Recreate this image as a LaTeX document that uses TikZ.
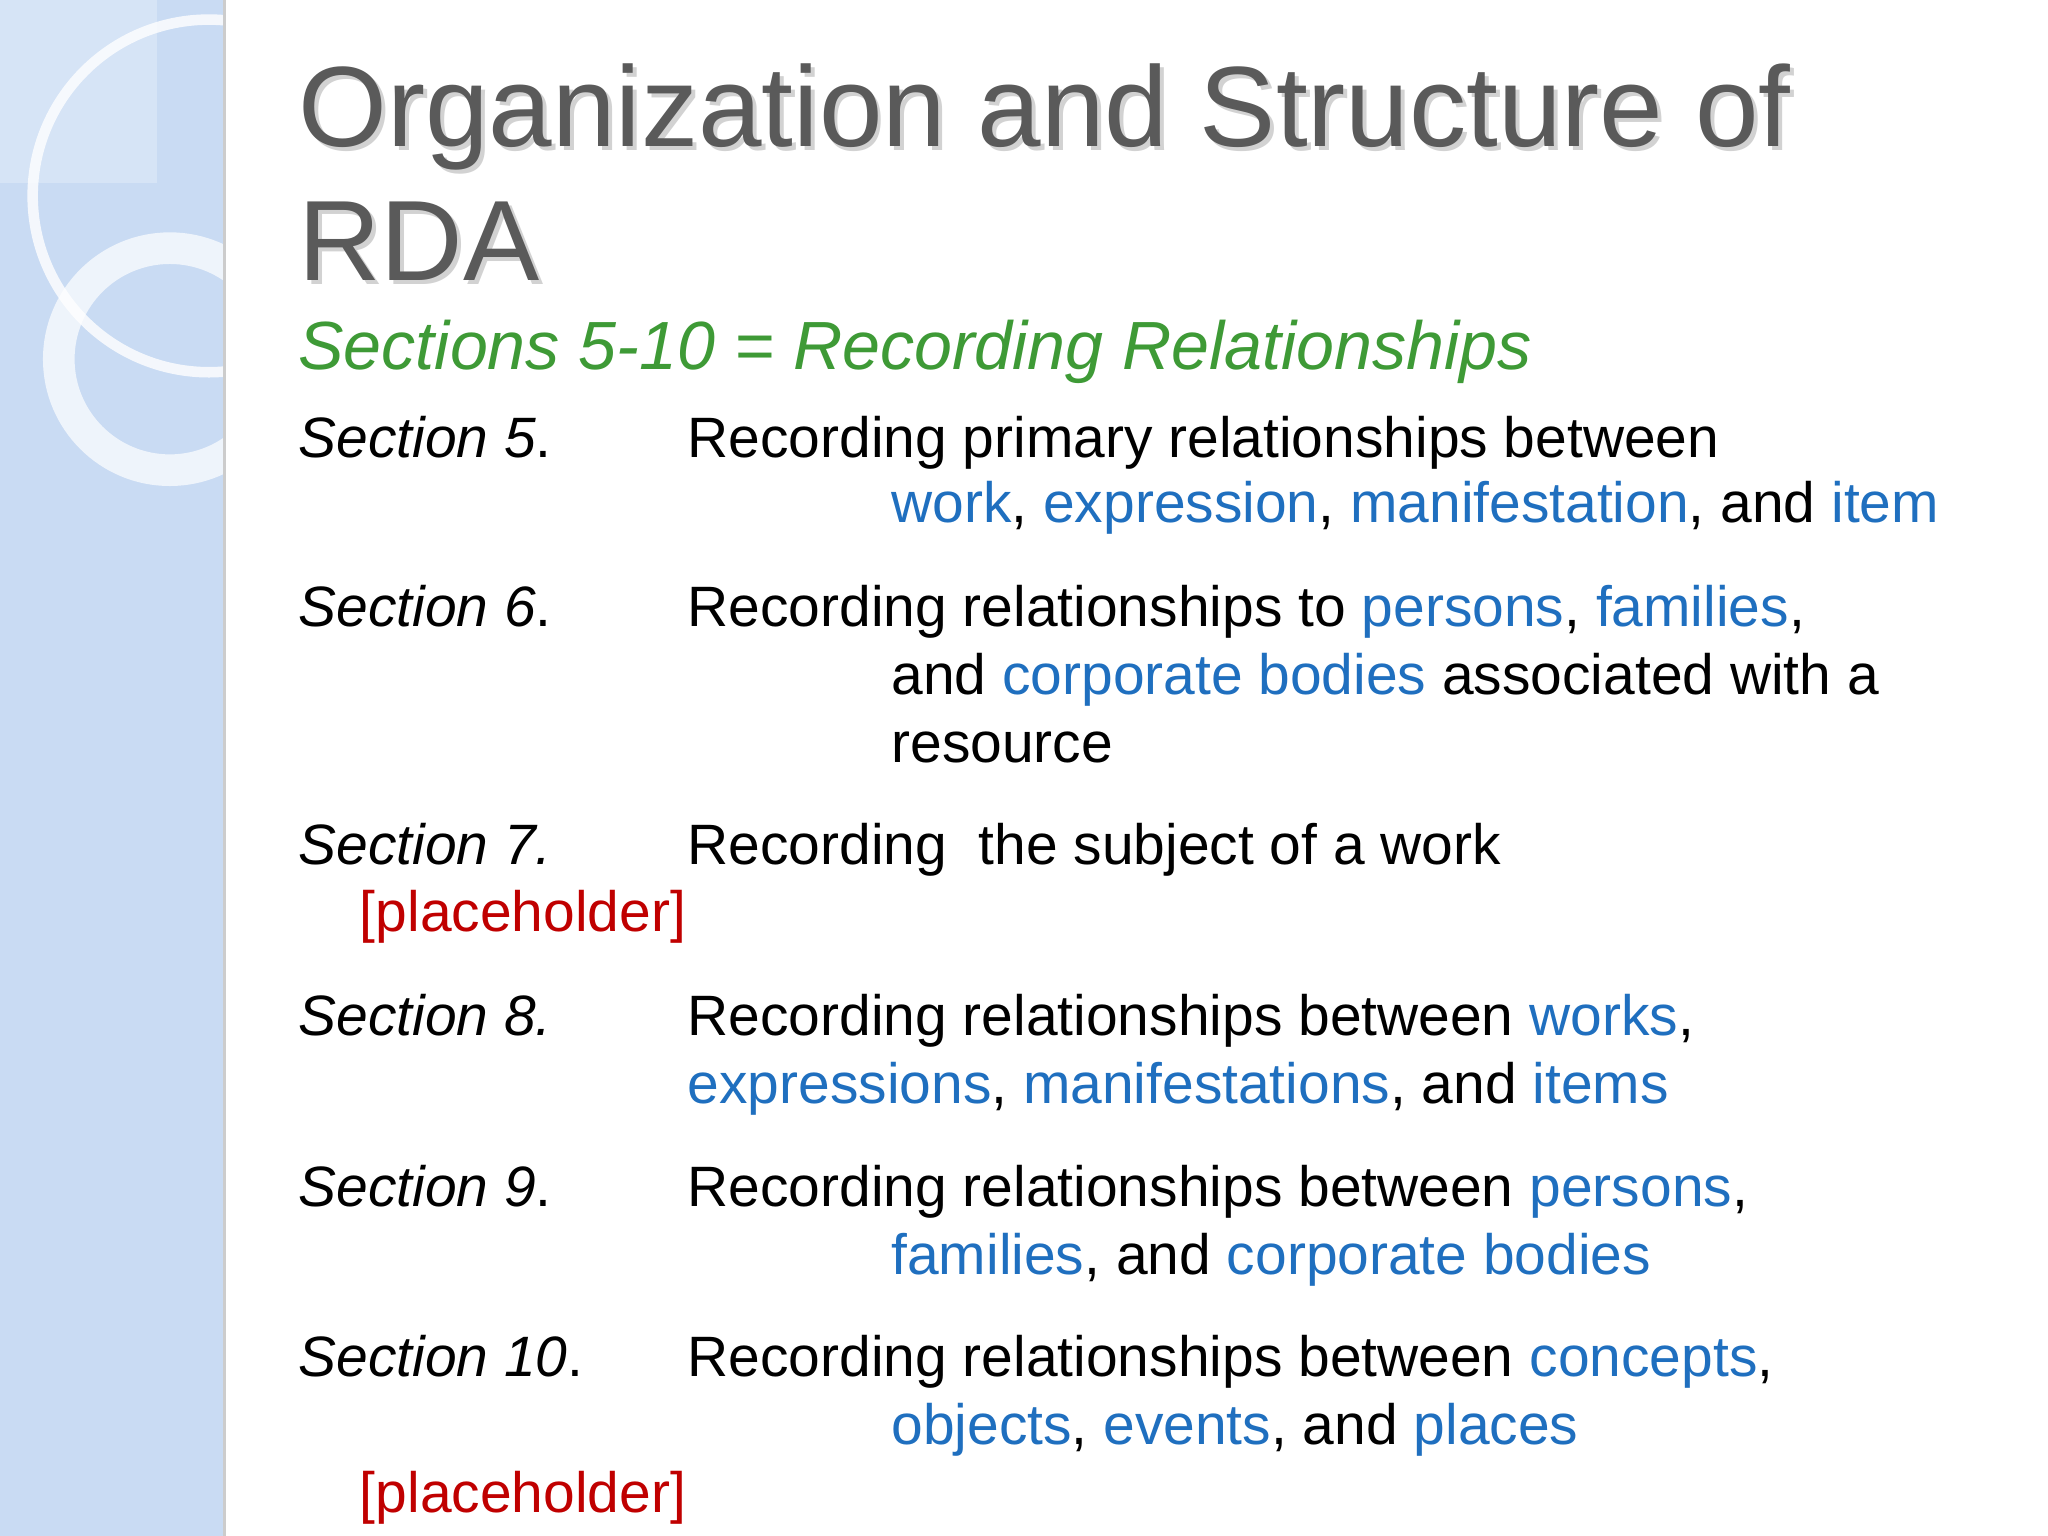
\documentclass[tikz,border=0pt]{standalone}
\usepackage{fontspec}
\setmainfont{Liberation Sans}
\definecolor{lb}{HTML}{1F6FBF}
\definecolor{gr}{HTML}{3E9A36}
\definecolor{rd}{HTML}{C00000}
\definecolor{ttl}{HTML}{5A5A5A}
\definecolor{strip}{HTML}{C9DBF3}
\begin{document}
\begin{tikzpicture}[x=0.013061cm,y=-0.013061cm,
  t/.style={anchor=base west,inner sep=0pt,font=\fontsize{16.2}{19}\selectfont},
  lab/.style={t,font=\fontsize{16.2}{19}\selectfont\itshape},
  ti/.style={anchor=base west,inner sep=0pt,font=\fontsize{32.5}{36}\selectfont}]
\fill[white] (0,0) rectangle (1568,1176);
\useasboundingbox (0,0) rectangle (1568,1176);
\fill[strip] (0,0) rectangle (172,1176);
\fill[white,opacity=0.25] (0,0) rectangle (120,140);
\draw[white,line width=3pt,opacity=0.8] (160,150) circle (135);
\draw[white,line width=9pt,opacity=0.7] (130,275) circle (85);
\draw[gray!40,line width=1pt] (172,0) -- (172,1176);
\node[ti,text=gray!35] (t1s) at (231,115) {Organization and Structure of};
\node[ti,text=gray!35] (t2s) at (231,218) {RDA};
\node[ti,text=ttl] (t1) at (228,112) {Organization and Structure of};
\node[ti,text=ttl] (t2) at (228,215) {RDA};
\node[anchor=base west,inner sep=0pt,text=gr,font=\fontsize{19.4}{22}\selectfont\itshape] (st) at (228,283) {Sections 5-10 = Recording Relationships};
\node[lab] (s5) at (228,350) {Section 5\upshape.};
\node[t] (d5a) at (526,350) {Recording primary relationships between};
\node[t] (d5b) at (682,400) {\textcolor{lb}{work}, \textcolor{lb}{expression}, \textcolor{lb}{manifestation}, and \textcolor{lb}{item}};
\node[lab] (s6) at (228,480) {Section 6\upshape.};
\node[t] (d6a) at (526,480) {Recording relationships to \textcolor{lb}{persons}, \textcolor{lb}{families},};
\node[t] (d6b) at (682,532) {and \textcolor{lb}{corporate bodies} associated with a};
\node[t] (d6c) at (682,584) {resource};
\node[lab] (s7) at (228,662) {Section 7.};
\node[t] (d7) at (526,662) {Recording\ \ the subject of a work};
\node[t,text=rd] (p7) at (275,713) {[placeholder]};
\node[lab] (s8) at (228,793) {Section 8.};
\node[t] (d8a) at (526,793) {Recording relationships between \textcolor{lb}{works},};
\node[t] (d8b) at (526,845) {\textcolor{lb}{expressions}, \textcolor{lb}{manifestations}, and \textcolor{lb}{items}};
\node[lab] (s9) at (228,924) {Section 9\upshape.};
\node[t] (d9a) at (526,924) {Recording relationships between \textcolor{lb}{persons},};
\node[t] (d9b) at (682,976) {\textcolor{lb}{families}, and \textcolor{lb}{corporate bodies}};
\node[lab] (s10) at (228,1054) {Section 10\upshape.};
\node[t] (d10a) at (526,1054) {Recording relationships between \textcolor{lb}{concepts},};
\node[t] (d10b) at (682,1106) {\textcolor{lb}{objects}, \textcolor{lb}{events}, and \textcolor{lb}{places}};
\node[t,text=rd] (p10) at (275,1158) {[placeholder]};
\end{tikzpicture}
\end{document}
